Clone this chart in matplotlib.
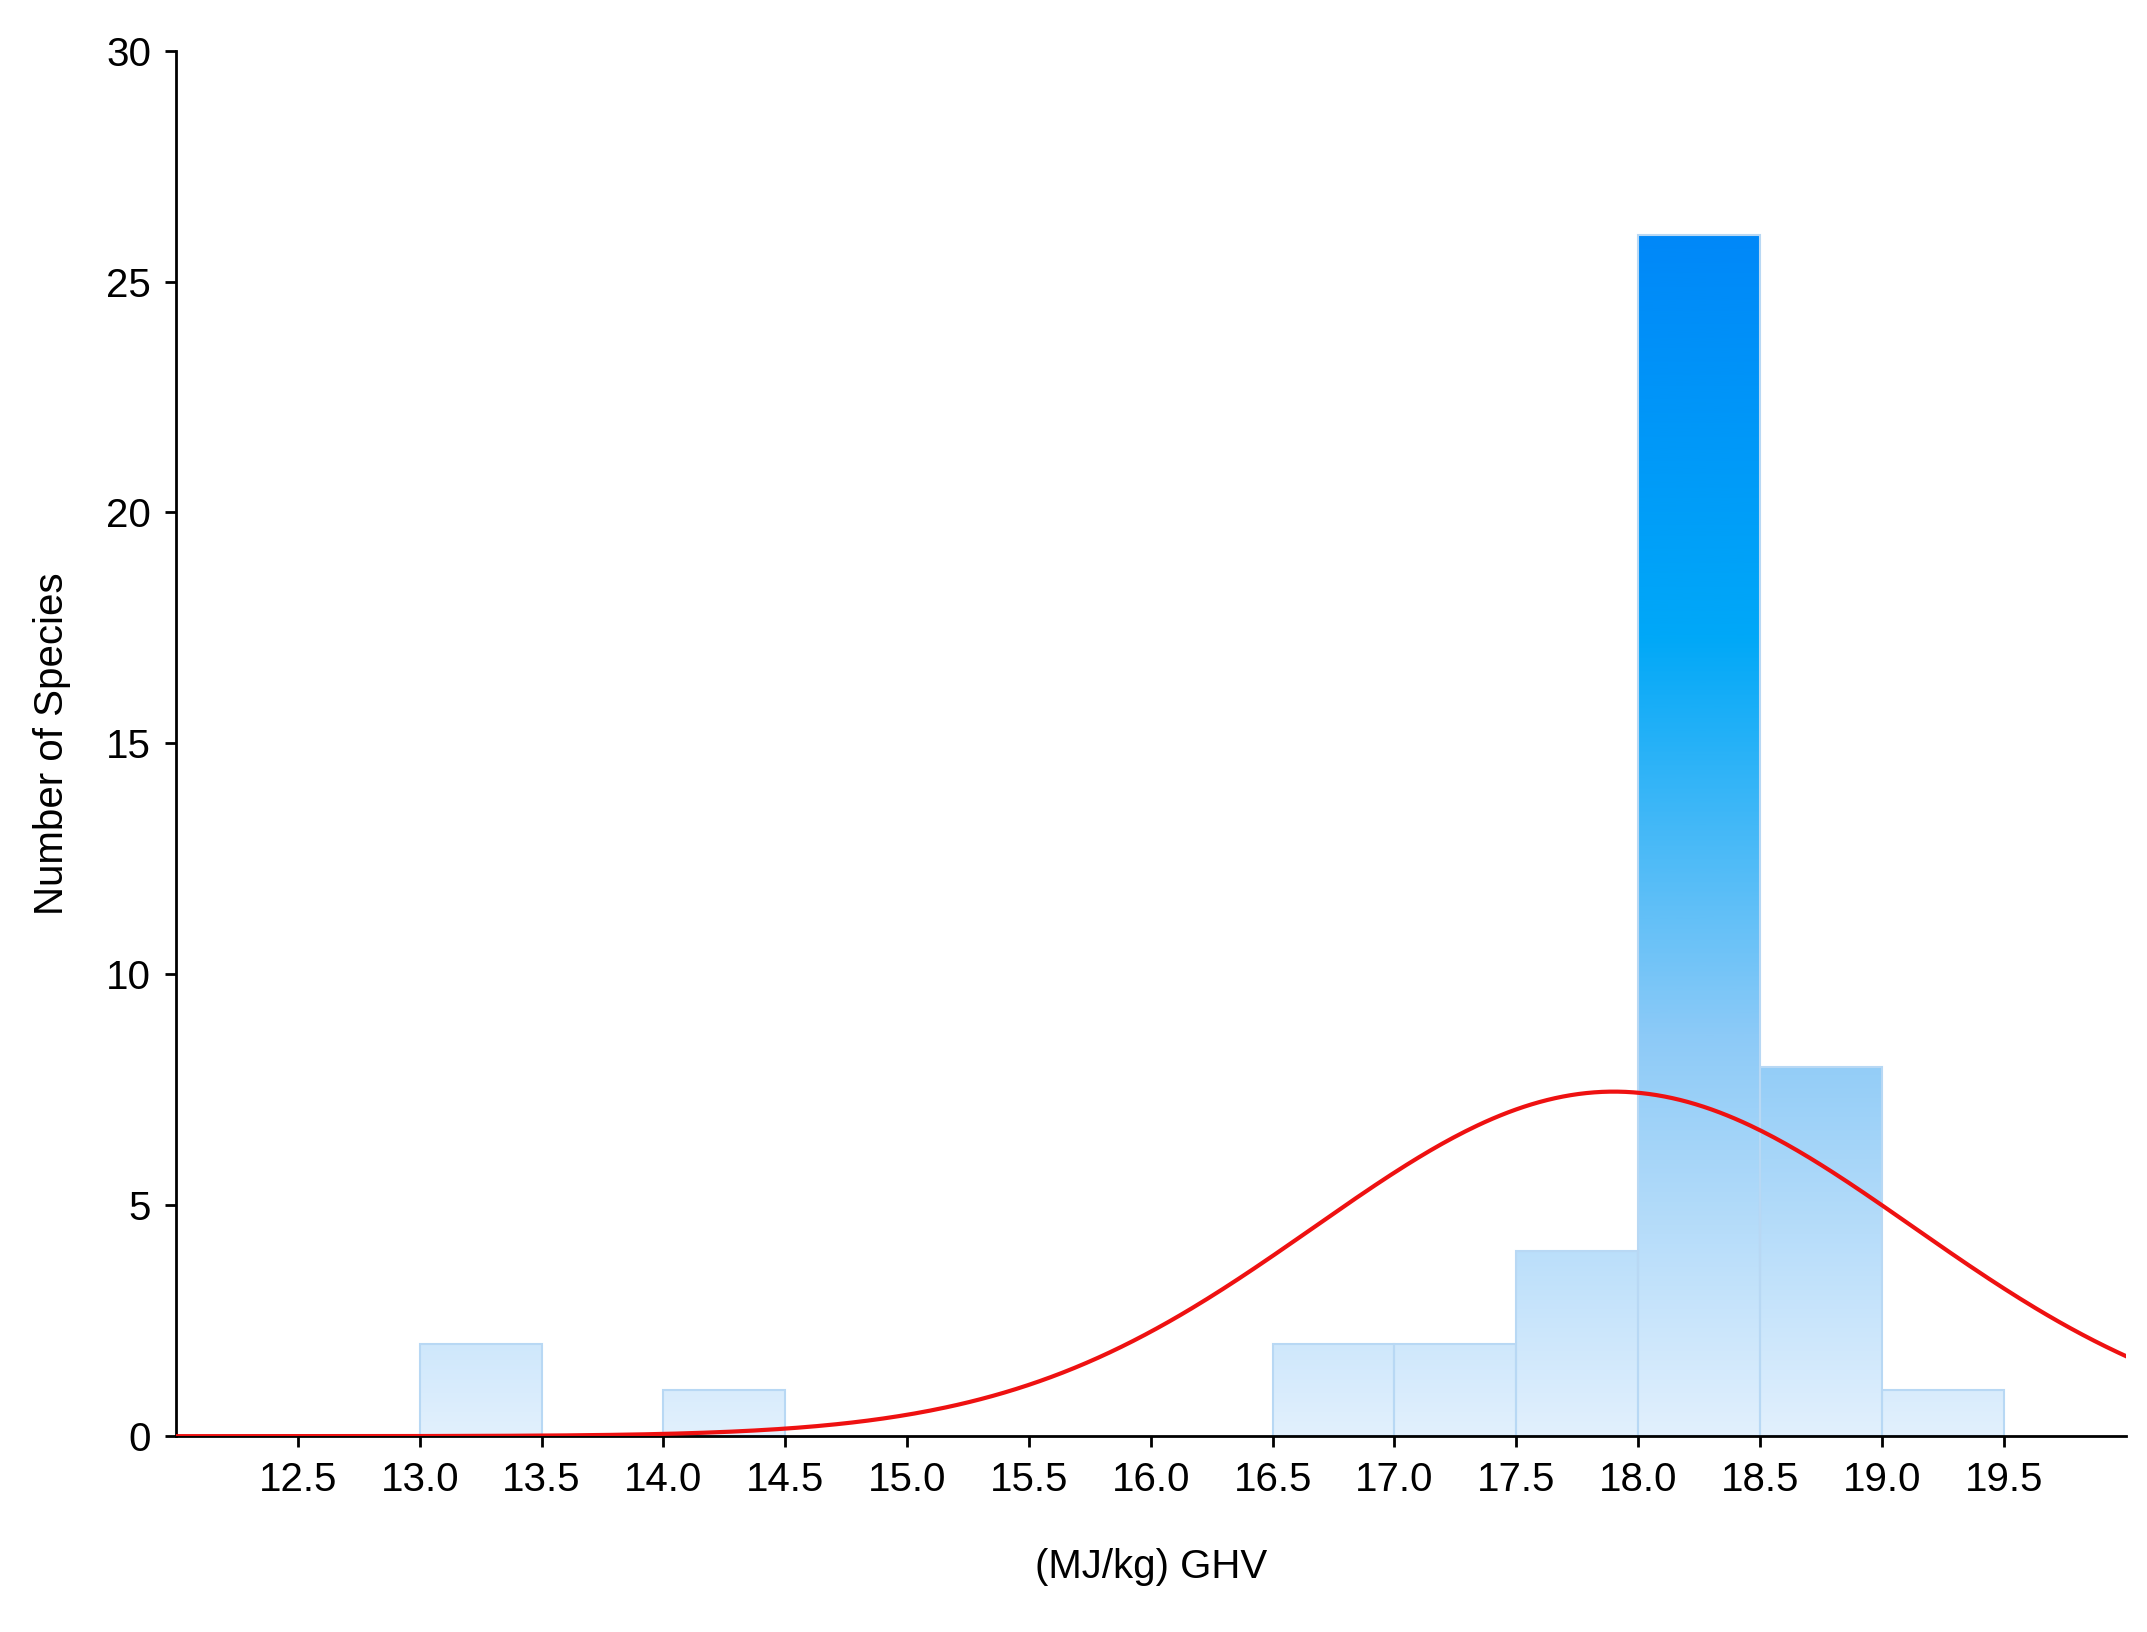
import numpy as np
import matplotlib
matplotlib.use("Agg")
import matplotlib.pyplot as plt
from matplotlib.colors import LinearSegmentedColormap

plt.rcParams['font.family'] = ['Liberation Sans', 'DejaVu Sans']

bin_lefts = [13.0, 14.0, 16.5, 17.0, 17.5, 18.0, 18.5, 19.0]
counts = [2, 1, 2, 2, 4, 26, 8, 1]
bin_width = 0.5
curve_mean = 17.9
curve_sd = 1.23
xticks = [12.5, 13.0, 13.5, 14.0, 14.5, 15.0, 15.5, 16.0, 16.5, 17.0, 17.5, 18.0, 18.5, 19.0, 19.5]
yticks = [0, 5, 10, 15, 20, 25, 30]

fig = plt.figure(figsize=(21.47, 16.32), dpi=100)
ax = fig.add_axes([0.082, 0.12, 0.908, 0.849])
ax.set_xlim(12.0, 20.0)
ax.set_ylim(0, 30)

cmap = LinearSegmentedColormap.from_list("g", ["#e2f0fd", "#8ccaf7", "#00a8f8", "#0088f8"])
grad = np.linspace(0, 1, 512).reshape(-1, 1)
for left, c in zip(bin_lefts, counts):
    bar = ax.bar(left, c, width=bin_width, align="edge", facecolor="none",
                 edgecolor="#b8d8f4", linewidth=1.5, zorder=2)[0]
    im = ax.imshow(grad, cmap=cmap, aspect="auto", origin="lower",
                   extent=[12.0, 20.0, 0, 26], zorder=1, vmin=0, vmax=1)
    im.set_clip_path(bar)

N = sum(counts)
xs = np.linspace(12.0, 20.0, 500)
ys = N * bin_width / (curve_sd * np.sqrt(2 * np.pi)) * np.exp(-(xs - curve_mean) ** 2 / (2 * curve_sd ** 2))
ax.plot(xs, ys, color="#ee1111", linewidth=3, zorder=3)

ax.set_xticks(xticks)
ax.set_xticklabels([f"{v:.1f}" for v in xticks])
ax.set_yticks(yticks)
for s in ["top", "right"]:
    ax.spines[s].set_visible(False)
for s in ["left", "bottom"]:
    ax.spines[s].set_linewidth(2)
ax.tick_params(axis="both", labelsize=29, width=2, length=8, pad=10)
ax.set_xlabel("(MJ/kg) GHV", fontsize=29, labelpad=35)
ax.set_ylabel("Number of Species", fontsize=29, labelpad=25)
fig.savefig("out.png", dpi=100)
